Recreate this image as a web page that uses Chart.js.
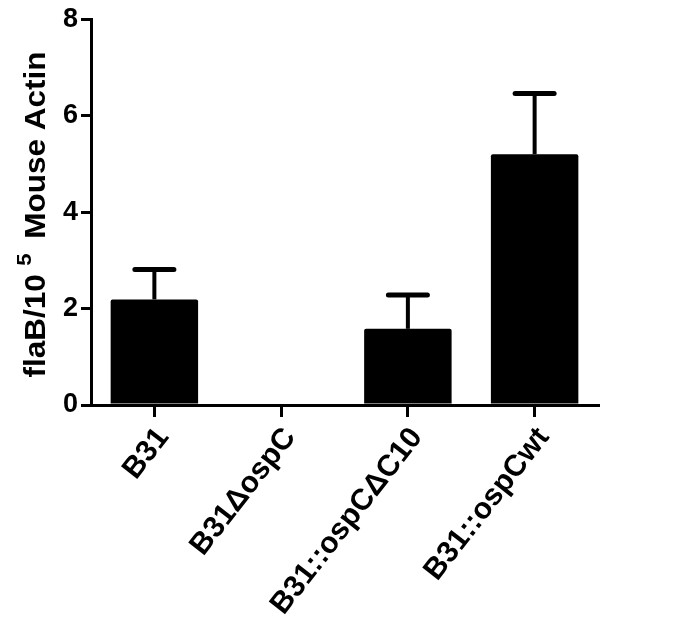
<!DOCTYPE html>
<html>
<head>
<meta charset="utf-8">
<script src="https://cdn.jsdelivr.net/npm/chart.js@4/dist/chart.umd.min.js"></script>
<style>
  html, body { margin: 0; padding: 0; background: #fff; }
  #wrap { width: 681px; height: 626px; }
</style>
</head>
<body>
<div id="wrap"><canvas id="chart"></canvas></div>
<script>
// values
const categories = ['B31', 'B31\u0394ospC', 'B31::ospC\u0394C10', 'B31::ospCwt'];
const means = [2.19, 0, 1.58, 5.2];
const errUp = [0.62, 0, 0.70, 1.26];
const yTicks = [0, 2, 4, 6, 8];
const yTitleParts = ['flaB/10', '5', 'Mouse Actin'];

const FONT = "'Liberation Sans', Arial, sans-serif";

// upper error bars only, like the original
const errorBars = {
  id: 'errorBars',
  afterDatasetsDraw(chart){
    const ctx = chart.ctx;
    const xs = chart.scales.x, ys = chart.scales.y;
    ctx.save();
    ctx.strokeStyle = '#000';
    means.forEach((m, i) => {
      if(!errUp[i]) return;
      const px = xs.getPixelForValue(i);
      const top = ys.getPixelForValue(m);
      const cap = ys.getPixelForValue(m + errUp[i]);
      ctx.lineWidth = 4;
      ctx.lineCap = 'butt';
      ctx.beginPath(); ctx.moveTo(px, top); ctx.lineTo(px, cap); ctx.stroke();
      ctx.lineWidth = 5;
      ctx.lineCap = 'round';
      ctx.beginPath(); ctx.moveTo(px - 19.5, cap); ctx.lineTo(px + 19.5, cap); ctx.stroke();
    });
    ctx.restore();
  }
};

// y title with the superscript 5
const yTitle = {
  id: 'yTitle',
  afterDraw(chart){
    const ctx = chart.ctx;
    const big = 'bold 30px ' + FONT, small = 'bold 21px ' + FONT;
    ctx.save();
    ctx.fillStyle = '#000';
    ctx.textBaseline = 'alphabetic';
    ctx.textAlign = 'left';
    ctx.translate(45, 214.5);
    ctx.rotate(-Math.PI / 2);
    ctx.scale(1.05, 1);
    ctx.font = big;
    const w1 = ctx.measureText(yTitleParts[0]).width;
    const w3 = ctx.measureText(yTitleParts[2]).width;
    ctx.font = small;
    const w2 = ctx.measureText(yTitleParts[1]).width;
    const g1 = 8, g2 = 14;
    let s = -(w1 + g1 + w2 + g2 + w3) / 2;
    ctx.font = big;
    ctx.fillText(yTitleParts[0], s, 0);
    s += w1 + g1;
    ctx.font = small;
    ctx.fillText(yTitleParts[1], s, -14);
    s += w2 + g2;
    ctx.font = big;
    ctx.fillText(yTitleParts[2], s, 0);
    ctx.restore();
  }
};

new Chart(document.getElementById('chart'), {
  type: 'bar',
  data: {
    labels: categories,
    datasets: [{
      data: means,
      backgroundColor: '#000',
      borderWidth: 0,
      borderRadius: 2,
      barPercentage: 0.69,
      categoryPercentage: 1
    }]
  },
  options: {
    responsive: true,
    maintainAspectRatio: false,
    animation: false,
    layout: { padding: { top: 19, right: 83, bottom: 0, left: 0 } },
    plugins: { legend: { display: false }, tooltip: { enabled: false } },
    scales: {
      x: {
        offset: true,
        grid: { offset: false, drawOnChartArea: false, tickLength: 12, lineWidth: 3, color: '#000' },
        border: { display: true, width: 3, color: '#000' },
        ticks: {
          autoSkip: false, minRotation: 52, maxRotation: 52, padding: 4, labelOffset: 9,
          color: '#000', font: { family: FONT, size: 30, weight: 'bold' }
        },
        afterFit: s => { s.height = 221; }
      },
      y: {
        min: 0, max: 8,
        grid: { drawOnChartArea: false, tickLength: 10, lineWidth: 3, color: '#000' },
        border: { display: true, width: 3, color: '#000' },
        afterBuildTicks: s => { s.ticks = yTicks.map(v => ({ value: v })); },
        ticks: { padding: 3, color: '#000', font: { family: FONT, size: 27, weight: 'bold' } },
        afterFit: s => { s.width = 91; }
      }
    }
  },
  plugins: [errorBars, yTitle]
});
</script>
</body>
</html>
